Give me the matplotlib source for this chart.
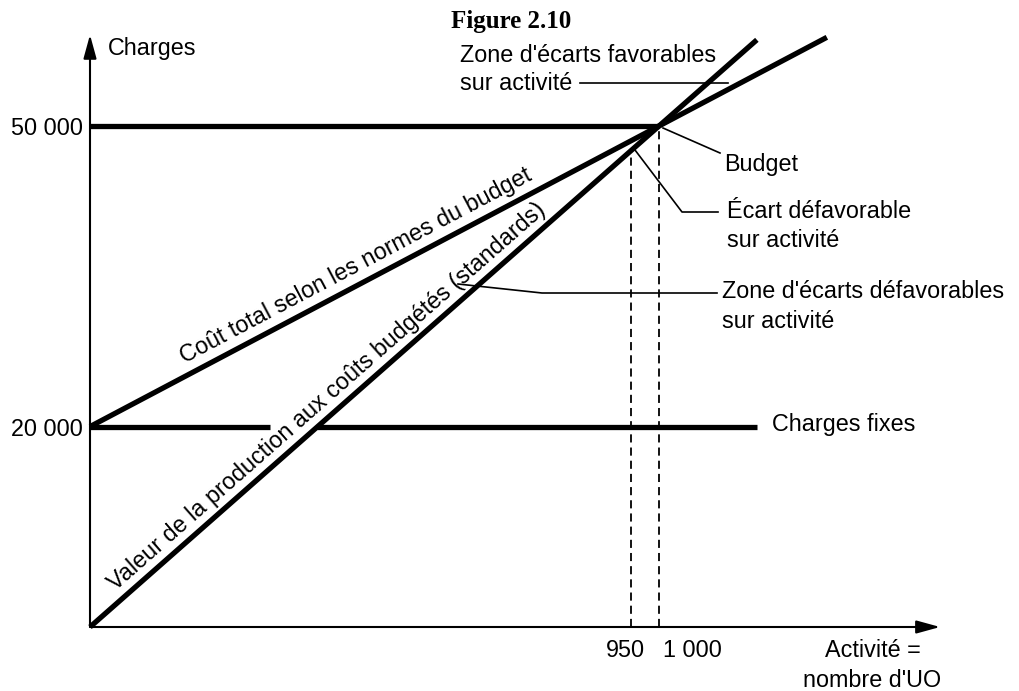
import numpy as np
import matplotlib.pyplot as plt

# valeurs
activite_ticks = [950, 1000]
activite_labels = ["950", "1 000"]
charges_ticks = [20000, 50000]
charges_labels = ["20 000", "50 000"]

standard_x = [0, 1172]          # valeur de la production aux couts standards
standard_y = [0, 58600]
total_x = [0, 1295]             # cout total selon les normes du budget
total_y = [20000, 58850]
budget_x = [0, 1000]            # niveau du budget
budget_y = [50000, 50000]
fixes_x1 = [0, 316]             # charges fixes (coupees pour le texte)
fixes_x2 = [399, 1172]
fixes_y = [20000, 20000]
reel_x = 950
reel_y = 47500
axe_x_max = 1494
axe_y_max = 59100

W, H = 1019, 691
fig = plt.figure(figsize=(W / 100, H / 100), dpi=100)
plt.rcParams['font.family'] = ['Liberation Sans', 'DejaVu Sans']
ax = fig.add_axes([0, 0, 1, 1])
sx, sy = 0.569, 0.01002
ax.set_xlim(-90 / sx, (W - 90) / sx)
ax.set_ylim(-(H - 627) / sy, 627 / sy)
ax.axis('off')


def px(x, y):
    # pixel de l'image -> coordonnees des donnees
    return (x - 90) / sx, (627 - y) / sy


def txt(x, y, s, **kw):
    fig.text(x / W, 1 - y / H, s, fontsize=16.8, va='baseline', **kw)


# axes avec fleches
arrow = dict(arrowstyle='-|>,head_length=0.8,head_width=0.22', lw=1.5,
             color='black', mutation_scale=18, shrinkA=0, shrinkB=0)
ax.annotate('', xy=(0, axe_y_max), xytext=(0, 0), arrowprops=arrow)
ax.annotate('', xy=(axe_x_max, 0), xytext=(0, 0), arrowprops=arrow)

thick = dict(color='black', lw=3.8, solid_capstyle='butt')
ax.plot(standard_x, standard_y, **thick)
ax.plot(total_x, total_y, **thick)
ax.plot(budget_x, budget_y, **thick)
ax.plot(fixes_x1, fixes_y, **thick)
ax.plot(fixes_x2, fixes_y, **thick)

dash = dict(color='black', lw=1.3, linestyle=(0, (4.5, 2.8)))
ax.plot([reel_x, reel_x], [0, reel_y], **dash)
ax.plot([budget_x[1], budget_x[1]], [0, budget_y[1]], **dash)

# graduations
for v, lab in zip(charges_ticks, charges_labels):
    ax.text(*px(83, 0)[:1], v, lab, fontsize=16.8, ha='right', va='center_baseline')
txt(625, 657, activite_labels[0], ha='center')
txt(663, 657, activite_labels[1], ha='left')

txt(108, 55, "Charges")
txt(873, 657, "Activité =", ha='center')
txt(872, 687, "nombre d'UO", ha='center')
fig.text(511 / W, 1 - 28 / H, "Figure 2.10", fontsize=18, fontweight='bold',
         family='Liberation Serif', ha='center', va='baseline')

# annotations
txt(460, 62, "Zone d'écarts favorables")
txt(460, 90, "sur activité")
txt(724, 171, "Budget")
txt(727, 218, "Écart défavorable")
txt(727, 247, "sur activité")
txt(722, 298, "Zone d'écarts défavorables")
txt(722, 328, "sur activité")
txt(772, 431, "Charges fixes")

lead = dict(color='black', lw=1.2)
for pts in ([(580, 83), (728, 83)],
            [(663, 128), (720, 153)],
            [(635, 150), (682, 212), (718, 212)],
            [(458, 284), (542, 293), (717, 293)]):
    xs, ys = zip(*[px(*p) for p in pts])
    ax.plot(xs, ys, **lead)

# textes le long des droites
fig.canvas.draw()


def along(xd, lx, ly, s, off):
    p0 = ax.transData.transform((lx[0], ly[0]))
    p1 = ax.transData.transform((lx[1], ly[1]))
    ang = np.degrees(np.arctan2(p1[1] - p0[1], p1[0] - p0[0]))
    yd = ly[0] + (ly[1] - ly[0]) * (xd - lx[0]) / (lx[1] - lx[0])
    r = np.radians(ang)
    ax.annotate(s, xy=(xd, yd), xytext=(-off * np.sin(r), off * np.cos(r)),
                textcoords='offset points', rotation=ang, rotation_mode='anchor',
                ha='center', va='baseline', fontsize=16.8)


along(482, total_x, total_y, "Coût total selon les normes du budget", 8.4)
along(435, standard_x, standard_y,
      "Valeur de la production aux coûts budgétés (standards)", 7.2)

fig.savefig('out.png', dpi=100)
